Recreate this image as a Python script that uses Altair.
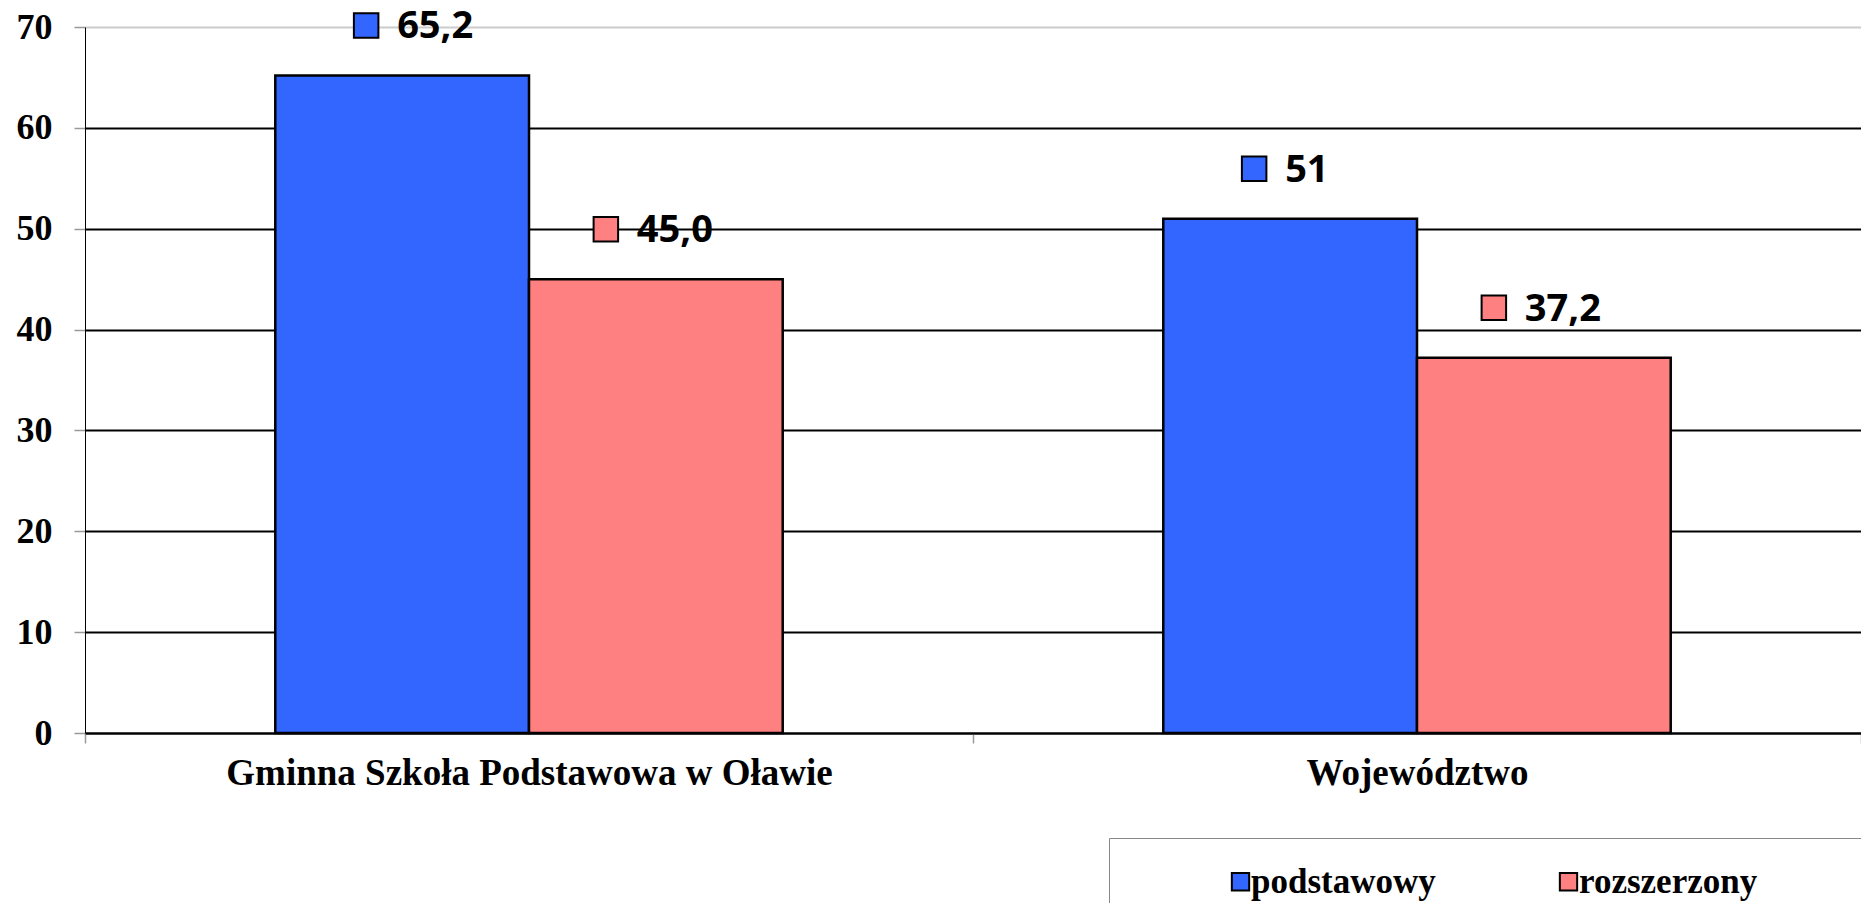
import altair as alt
import pandas as pd

categories = ["Gminna Szkoła Podstawowa w Oławie", "Województwo"]
series = ["podstawowy", "rozszerzony"]
podstawowy = [65.2, 51.0]
rozszerzony = [45.0, 37.2]
label_podstawowy = ["65,2", "51"]
label_rozszerzony = ["45,0", "37,2"]
colors = ["#3366FF", "#FF8080"]
y_ticks = [0, 10, 20, 30, 40, 50, 60, 70]

rows = []
for i, c in enumerate(categories):
    rows.append({"kategoria": c, "seria": series[0], "wartosc": podstawowy[i], "etykieta": label_podstawowy[i]})
    rows.append({"kategoria": c, "seria": series[1], "wartosc": rozszerzony[i], "etykieta": label_rozszerzony[i]})
df = pd.DataFrame(rows)

x_scale = alt.Scale(paddingInner=0, paddingOuter=0)
x_axis = alt.Axis(
    title=None, labelAngle=0, labelFont="Liberation Serif", labelFontSize=37,
    labelFontWeight="bold", labelColor="black", labelLimit=1200, labelPadding=12,
    domainColor="black", domainWidth=2, tickColor="#999999", tickSize=10,
    tickWidth=1.5, tickBand="extent", grid=False,
)
y_scale = alt.Scale(domain=[0, 70], nice=False)
y_axis = alt.Axis(
    title=None, values=y_ticks, labelFont="Liberation Serif", labelFontSize=36,
    labelFontWeight="bold", labelColor="black", labelPadding=22, tickSize=11,
    tickColor="#999999", tickWidth=1.5, domainColor="black", domainWidth=1,
    grid=True, gridWidth=2,
    gridColor={"condition": {"test": "datum.value == 70", "value": "#cccccc"}, "value": "black"},
)

legend = alt.Legend(
    title="\u00a0", titleOrient="right", titlePadding=110, titleFontSize=10,
    orient="none", legendX=1024, legendY=811, direction="horizontal",
    labelFont="Liberation Serif", labelFontSize=35, labelFontWeight="bold",
    labelColor="black", labelLimit=2000, symbolType="square", symbolSize=300,
    symbolStrokeColor="black", symbolStrokeWidth=2, symbolOpacity=1,
    symbolOffset=88, labelOffset={"expr": "-7"}, columnPadding=27, padding=26,
    strokeColor="#888888", fillColor="white",
)

bars = alt.Chart(df).mark_bar(stroke="black", strokeWidth=2.5, opacity=1).encode(
    x=alt.X("kategoria:N", sort=categories, scale=x_scale, axis=x_axis),
    xOffset=alt.XOffset("seria:N", sort=series, scale=alt.Scale(paddingInner=0, paddingOuter=0.75)),
    y=alt.Y("wartosc:Q", scale=y_scale, axis=y_axis),
    color=alt.Color("seria:N", sort=series, scale=alt.Scale(domain=series, range=colors), legend=legend),
)

band_pos = [1.25 / 3.5, 2.25 / 3.5]
square_dx = [-36, -50]
text_dx = [-5, -19]
label_dy = -50

layers = [bars]
for i, s in enumerate(series):
    base = alt.Chart(df).transform_filter(alt.datum.seria == s)
    sq = base.mark_square(
        size=600, fill=colors[i], stroke="black", strokeWidth=2, opacity=1, fillOpacity=1,
        xOffset=square_dx[i], yOffset=label_dy,
    ).encode(
        x=alt.X("kategoria:N", sort=categories, bandPosition=band_pos[i]),
        y=alt.Y("wartosc:Q"),
    )
    tx = base.mark_text(
        font="Open Sans", fontSize=38, fontWeight="bold", color="black",
        align="left", baseline="middle", dx=text_dx[i], dy=label_dy + 2,
    ).encode(
        x=alt.X("kategoria:N", sort=categories, bandPosition=band_pos[i]),
        y=alt.Y("wartosc:Q"),
        text="etykieta:N",
    )
    layers += [sq, tx]

chart = alt.layer(*layers).properties(
    width=1776, height=706,
    padding={"left": 77, "top": 19, "right": 0, "bottom": 170},
    autosize=alt.AutoSizeParams(type="none"),
    background="white",
).configure_view(stroke=None)

chart.save("out.html", embed_options={"renderer": "svg", "actions": False})
